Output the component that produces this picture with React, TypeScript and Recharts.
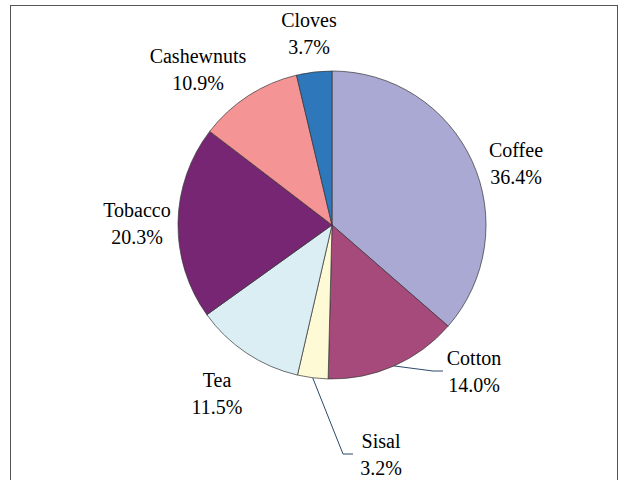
import React from "react";
import { PieChart, Pie, Cell } from "recharts";

const categories = ["Coffee", "Cotton", "Sisal", "Tea", "Tobacco", "Cashewnuts", "Cloves"];
const shares = [36.4, 14.0, 3.2, 11.5, 20.3, 10.9, 3.7];

const COLORS = ["#A9A9D3", "#A64A7B", "#FFFAD6", "#DAEEF4", "#772673", "#F59494", "#2E77BA"];

// label layout: baseline of first line, offset from pie centre
const LABEL_OFFSETS: [number, number][] = [
  [184, -68],
  [142, 140],
  [49, 223],
  [-115, 162],
  [-195, -8],
  [-134, -162],
  [-23, -198],
];
// leader-line elbows (offsets from pie centre) for slices that have one
const LEADERS: Record<number, [number, number][]> = {
  1: [[101, 146], [111, 146]],
  2: [[11, 229], [21, 229]],
};

const data = categories.map((name, i) => ({ name, value: shares[i] }));

const RAD = Math.PI / 180;
const FONT = "Liberation Serif";

const renderLabel = (props: any) => {
  const { cx, cy, midAngle, outerRadius, index, name, value } = props;
  const [dx, dy] = LABEL_OFFSETS[index];
  const x = cx + dx;
  const y = cy + dy;
  const leader = LEADERS[index];
  let line = null;
  if (leader) {
    const sx = cx + outerRadius * Math.cos(-midAngle * RAD);
    const sy = cy + outerRadius * Math.sin(-midAngle * RAD);
    const pts = [[sx, sy], ...leader.map(([ox, oy]) => [cx + ox, cy + oy])]
      .map((p) => p.join(","))
      .join(" ");
    line = <polyline points={pts} fill="none" stroke="#2B4A6B" strokeWidth={1} />;
  }
  return (
    <g key={`lbl-${index}`} className="serif-lbl">
      {line}
      <text x={x} y={y} textAnchor="middle" fontFamily={FONT} fontSize={20} fill="#000">
        {name}
      </text>
      <text x={x} y={y + 27} textAnchor="middle" fontFamily={FONT} fontSize={20} fill="#000">
        {Number(value).toFixed(1)}%
      </text>
    </g>
  );
};

export default function App() {
  return (
    <div
      style={{
        position: "absolute",
        left: 0,
        top: 0,
        width: 622,
        height: 480,
        overflow: "hidden",
        background: "#fff",
      }}
    >
      <style>{`svg text { font-family: "Liberation Serif" !important; }`}</style>
      <div
        style={{
          position: "absolute",
          left: 10,
          top: 5,
          width: 606,
          height: 600,
          border: "1px solid #555",
        }}
      />
      <div style={{ position: "absolute", left: 0, top: 0 }}>
        <PieChart width={622} height={480} margin={{ top: 0, right: 0, bottom: 0, left: 0 }}>
          <Pie
            data={data}
            dataKey="value"
            nameKey="name"
            cx={332}
            cy={225}
            outerRadius={154}
            startAngle={90}
            endAngle={-270}
            label={renderLabel}
            labelLine={false}
            isAnimationActive={false}
            stroke="#333"
            strokeWidth={0.7}
          >
            {data.map((d, i) => (
              <Cell key={d.name} fill={COLORS[i]} stroke="#333" strokeWidth={0.7} />
            ))}
          </Pie>
        </PieChart>
      </div>
    </div>
  );
}
